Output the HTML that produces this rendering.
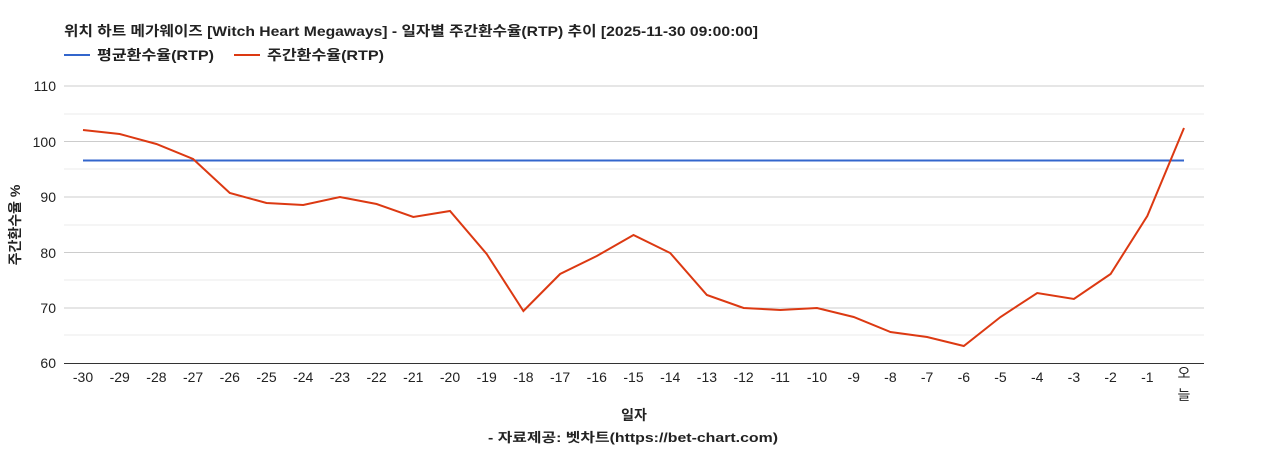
<!DOCTYPE html>
<html><head><meta charset="utf-8"><style>
body{margin:0;background:#fff;position:relative;}
svg text{font-family:"Liberation Sans","Noto Sans CJK KR",sans-serif;}
.today{position:absolute;left:1174px;width:20px;text-align:center;font:14px "Liberation Sans","Noto Sans CJK KR",sans-serif;color:#222;line-height:18px;}
</style></head><body>
<svg width="1268" height="450" xmlns="http://www.w3.org/2000/svg" style="display:block">
<rect width="1268" height="450" fill="#fff"/>
<text x="64" y="36" font-size="14" font-weight="bold" fill="#222" textLength="694" lengthAdjust="spacingAndGlyphs">위치 하트 메가웨이즈 [Witch Heart Megaways] - 일자별 주간환수율(RTP) 추이 [2025-11-30 09:00:00]</text>
<line x1="64" y1="55" x2="90" y2="55" stroke="#3366cc" stroke-width="2"/>
<text x="97" y="60" font-size="14" font-weight="bold" fill="#222" textLength="117" lengthAdjust="spacingAndGlyphs">평균환수율(RTP)</text>
<line x1="234" y1="55" x2="260" y2="55" stroke="#dc3912" stroke-width="2"/>
<text x="267" y="60" font-size="14" font-weight="bold" fill="#222" textLength="117" lengthAdjust="spacingAndGlyphs">주간환수율(RTP)</text>
<g stroke="#ebebeb" stroke-width="1">
<line x1="64" x2="1204" y1="114" y2="114"/><line x1="64" x2="1204" y1="169" y2="169"/>
<line x1="64" x2="1204" y1="225" y2="225"/><line x1="64" x2="1204" y1="280" y2="280"/>
<line x1="64" x2="1204" y1="335" y2="335"/></g>
<g stroke="#cccccc" stroke-width="1">
<line x1="64" x2="1204" y1="86" y2="86"/><line x1="64" x2="1204" y1="141.5" y2="141.5"/>
<line x1="64" x2="1204" y1="197" y2="197"/><line x1="64" x2="1204" y1="252.5" y2="252.5"/>
<line x1="64" x2="1204" y1="308" y2="308"/></g>
<line x1="64" x2="1204" y1="363.5" y2="363.5" stroke="#333"/>
<g font-size="14" fill="#222" text-anchor="end">
<text x="56" y="91">110</text><text x="56" y="147">100</text><text x="56" y="202">90</text>
<text x="56" y="258">80</text><text x="56" y="313">70</text><text x="56" y="368">60</text></g>
<g font-size="14" fill="#222" text-anchor="middle">
<text x="83.0" y="382">-30</text><text x="119.7" y="382">-29</text><text x="156.4" y="382">-28</text>
<text x="193.1" y="382">-27</text><text x="229.8" y="382">-26</text><text x="266.5" y="382">-25</text>
<text x="303.2" y="382">-24</text><text x="339.9" y="382">-23</text><text x="376.6" y="382">-22</text>
<text x="413.3" y="382">-21</text><text x="450.0" y="382">-20</text><text x="486.7" y="382">-19</text>
<text x="523.4" y="382">-18</text><text x="560.1" y="382">-17</text><text x="596.8" y="382">-16</text>
<text x="633.5" y="382">-15</text><text x="670.2" y="382">-14</text><text x="706.9" y="382">-13</text>
<text x="743.6" y="382">-12</text><text x="780.3" y="382">-11</text><text x="817.0" y="382">-10</text>
<text x="853.7" y="382">-9</text><text x="890.4" y="382">-8</text><text x="927.1" y="382">-7</text>
<text x="963.8" y="382">-6</text><text x="1000.5" y="382">-5</text><text x="1037.2" y="382">-4</text>
<text x="1073.9" y="382">-3</text><text x="1110.6" y="382">-2</text><text x="1147.3" y="382">-1</text>
</g>
<text x="634" y="420" font-size="14" font-weight="bold" fill="#222" text-anchor="middle">일자</text>
<text x="488" y="442" font-size="13" font-weight="bold" fill="#222" textLength="290" lengthAdjust="spacingAndGlyphs">- 자료제공: 벳차트(https://bet-chart.com)</text>
<text transform="translate(20,225) rotate(-90)" font-size="14" font-weight="bold" fill="#222" text-anchor="middle">주간환수율 %</text>
<line x1="83" x2="1184" y1="160.5" y2="160.5" stroke="#3366cc" stroke-width="2"/>
<polyline fill="none" stroke="#dc3912" stroke-width="2" points="83.0,130 119.7,134 156.4,144 193.1,159 229.8,193 266.5,203 303.2,205 339.9,197 376.6,204 413.3,217 450.0,211 486.7,254 523.4,311 560.1,274 596.8,256 633.5,235 670.2,253 706.9,295 743.6,308 780.3,310 817.0,308 853.7,317 890.4,332 927.1,337 963.8,346 1000.5,317 1037.2,293 1073.9,299 1110.6,274 1147.3,216 1184,128"/>
</svg>
<div class="today" style="top:364px">오</div>
<div class="today" style="top:386px">늘</div>
</body></html>
